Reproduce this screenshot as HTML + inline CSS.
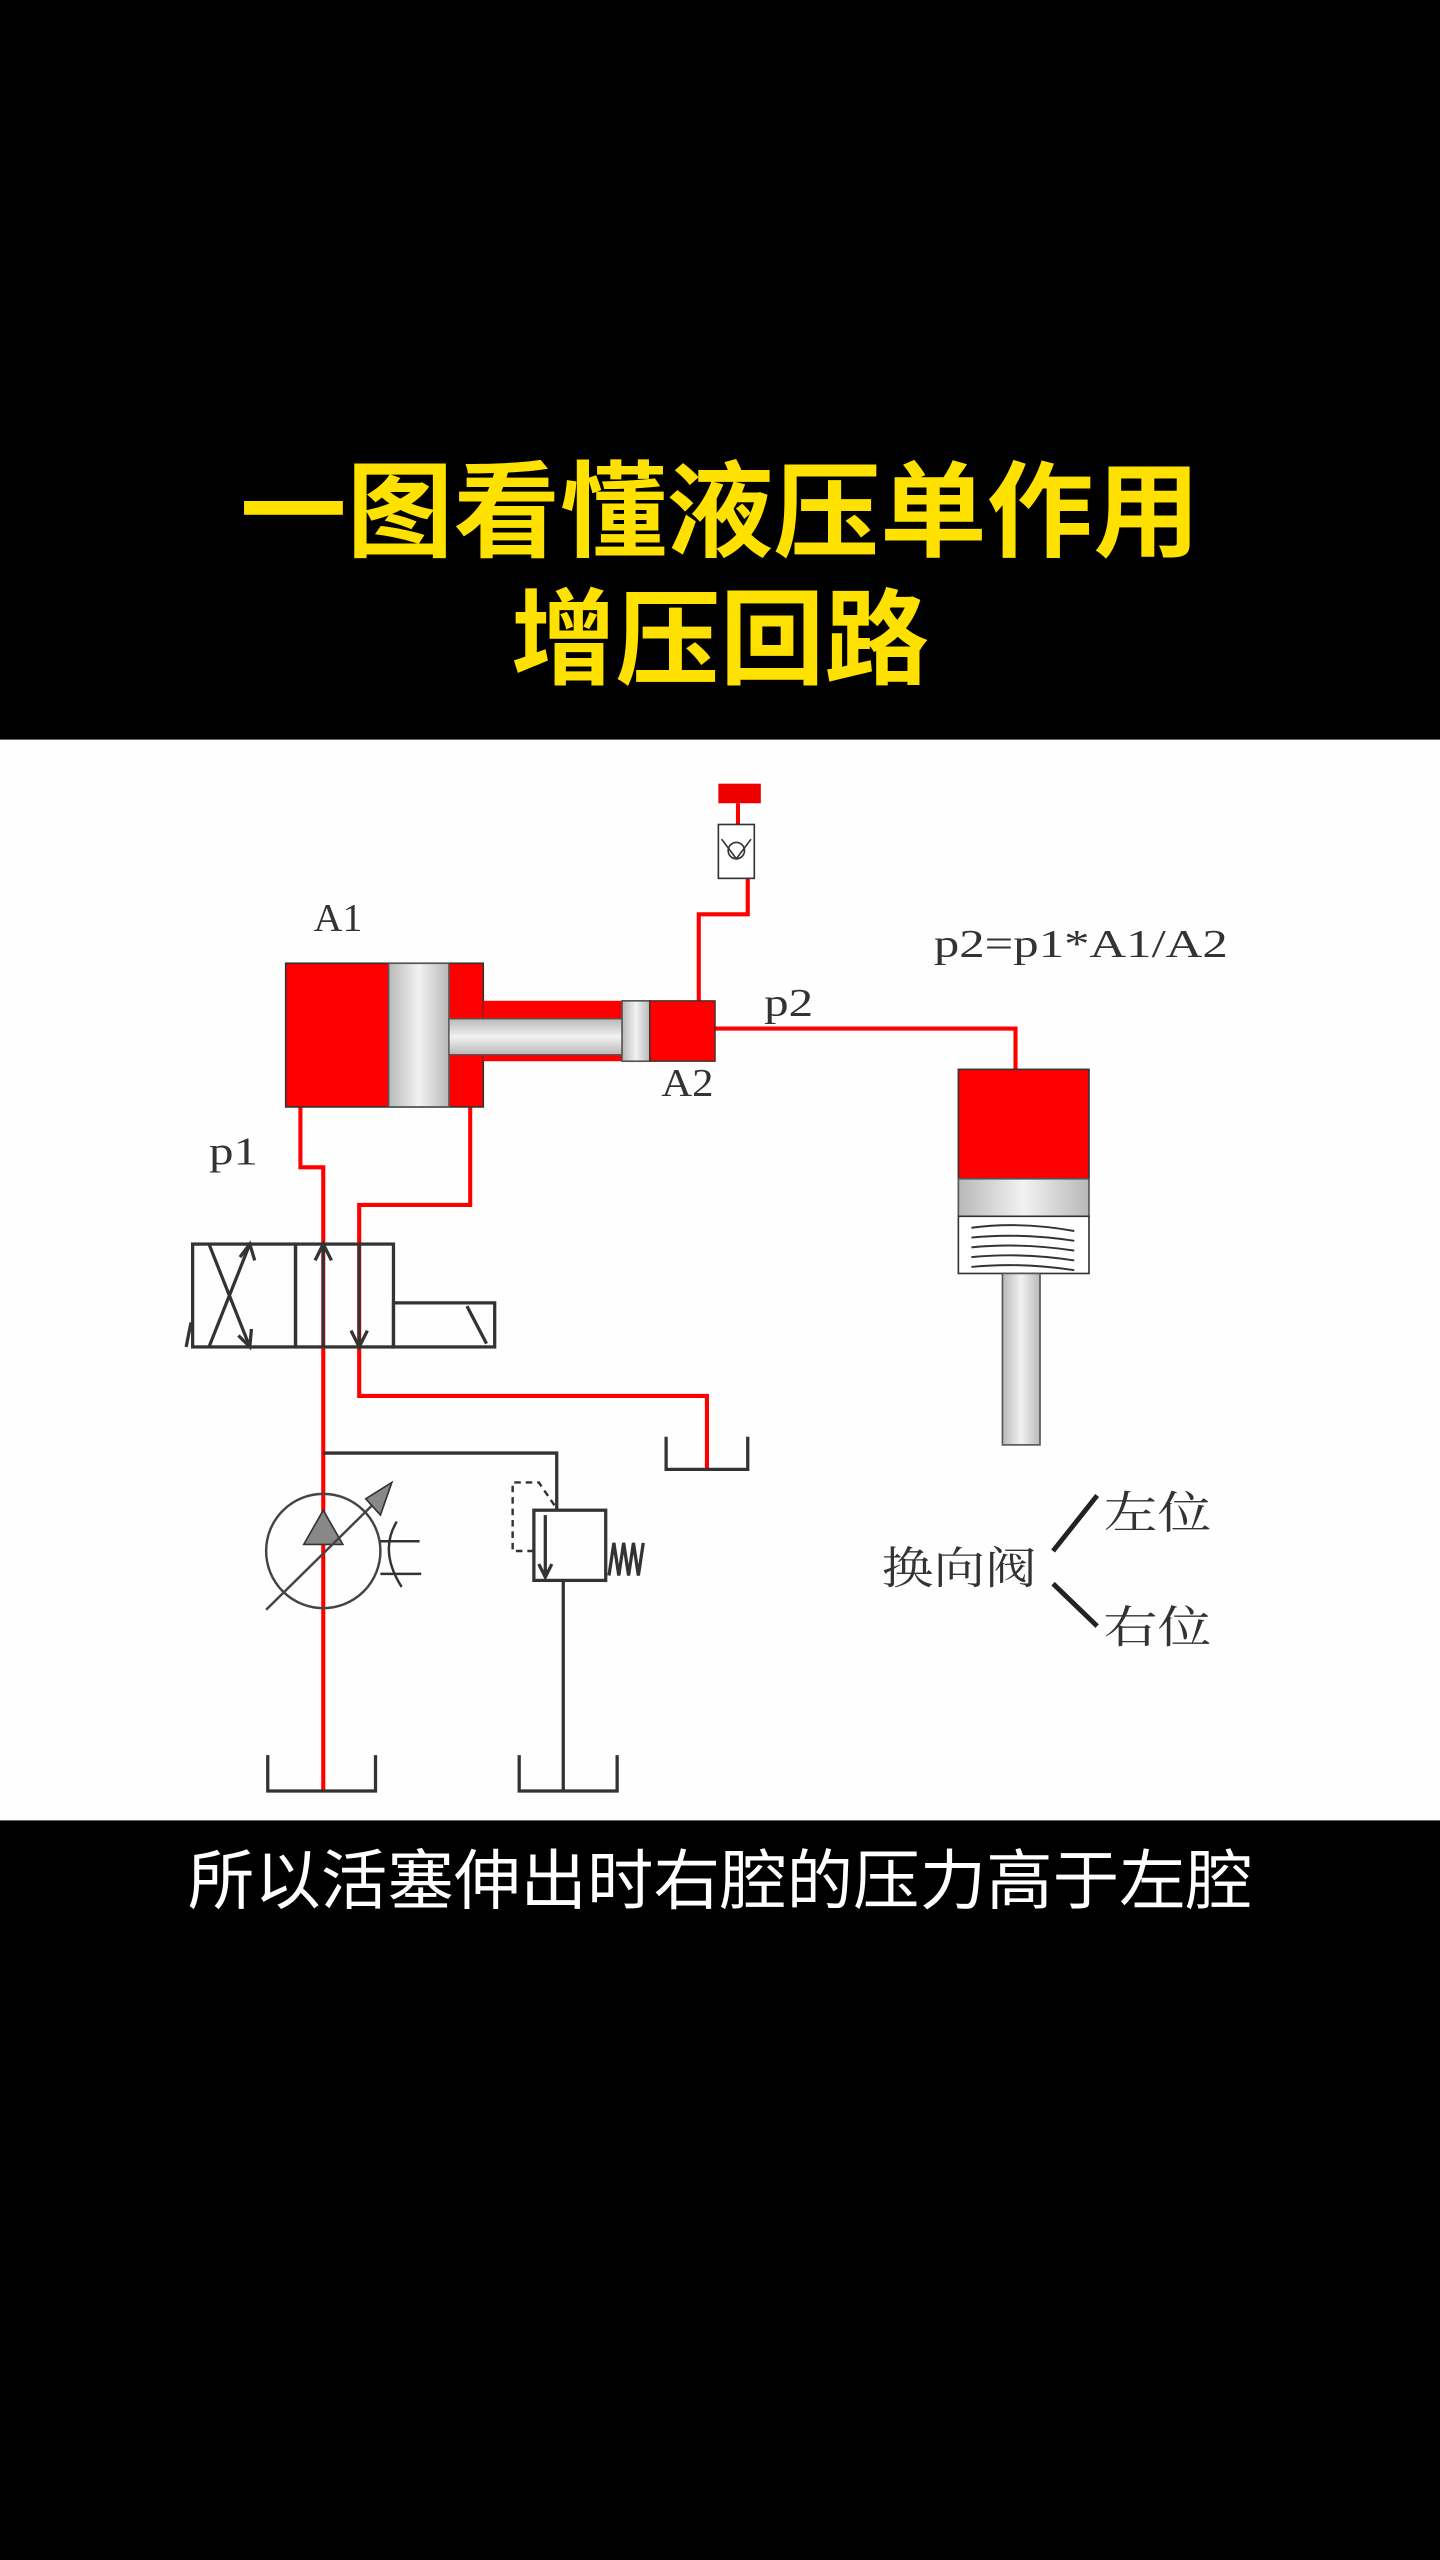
<!DOCTYPE html>
<html><head><meta charset="utf-8"><style>
html,body{margin:0;padding:0;background:#000;}
svg{display:block;}
</style></head><body>
<svg width="1440" height="2560" viewBox="0 0 882 1568" xmlns="http://www.w3.org/2000/svg">
<rect x="0" y="0" width="882" height="1568" fill="#000"/>
<text x="441" y="336" text-anchor="middle" fill="#FFE100" font-family="'Liberation Sans','Noto Sans CJK SC',sans-serif" font-weight="700" font-size="64" textLength="588" lengthAdjust="spacingAndGlyphs">一图看懂液压单作用</text>
<text x="441" y="414" text-anchor="middle" fill="#FFE100" font-family="'Liberation Sans','Noto Sans CJK SC',sans-serif" font-weight="700" font-size="64">增压回路</text>
<rect x="0" y="453" width="882" height="662" fill="#fefefe"/>
<text x="441" y="1166" text-anchor="middle" fill="#fff" font-family="'Liberation Sans','Noto Sans CJK SC',sans-serif" font-size="40" textLength="652" lengthAdjust="spacingAndGlyphs">所以活塞伸出时右腔的压力高于左腔</text>

<defs><linearGradient id="g" x1="0" x2="1"><stop offset="0" stop-color="#b8b8b8"/><stop offset="0.5" stop-color="#f2f2f2"/><stop offset="1" stop-color="#b8b8b8"/></linearGradient>
<linearGradient id="gv" x1="0" y1="0" x2="0" y2="1"><stop offset="0" stop-color="#b8b8b8"/><stop offset="0.5" stop-color="#f2f2f2"/><stop offset="1" stop-color="#b8b8b8"/></linearGradient></defs>

<g fill="none" stroke="#ff0000" stroke-width="2.5">
<path d="M184 678 V715 H198 V1097"/>
<path d="M288 678 V738 H220 V855 H433 V900"/>
<path d="M438 630 H622 V655"/>
<path d="M428 613 V560 H458 V538"/>
<path d="M452 492 V505"/>
</g>
<rect x="175" y="590" width="121" height="88" fill="#f00" stroke="#333" stroke-width="1"/>
<rect x="296" y="613" width="102" height="37" fill="#f00"/>
<rect x="238" y="590" width="37" height="88" fill="url(#g)" stroke="#555" stroke-width="1"/>
<rect x="275" y="624" width="108" height="22" fill="url(#gv)" stroke="#555" stroke-width="0.8"/>
<rect x="381" y="613" width="17" height="37" fill="url(#g)" stroke="#555" stroke-width="1"/>
<rect x="398" y="613" width="40" height="37" fill="#f00" stroke="#333" stroke-width="0.8"/>
<rect x="440" y="480" width="26" height="12" fill="#e00"/>
<rect x="440" y="505" width="22" height="33" fill="#fff" stroke="#333" stroke-width="1"/>
<circle cx="451" cy="521" r="5" fill="none" stroke="#333"/>
<path d="M442 514 L451 526 L460 514" fill="none" stroke="#333"/>
<rect x="587" y="655" width="80" height="67" fill="#f00" stroke="#333"/>
<rect x="587" y="722" width="80" height="23" fill="url(#g)" stroke="#555"/>
<rect x="587" y="745" width="80" height="35" fill="#fff" stroke="#333"/>
<g stroke="#333" stroke-width="1.2" fill="none">
<path d="M595 752 Q625 748 658 754 M595 758 Q625 755 658 760 M595 764 Q625 761 658 766 M595 770 Q625 767 658 772 M595 776 Q625 773 658 778"/>
</g>
<rect x="614" y="780" width="23" height="105" fill="url(#g)" stroke="#555"/>
<g font-family="'Liberation Serif','Noto Serif CJK SC',serif" fill="#333" font-size="24">
<text x="192" y="570" textLength="30" lengthAdjust="spacingAndGlyphs">A1</text>
<text x="405" y="671" textLength="32" lengthAdjust="spacingAndGlyphs">A2</text>
<text x="468" y="622" textLength="30" lengthAdjust="spacingAndGlyphs">p2</text>
<text x="128" y="713" textLength="30" lengthAdjust="spacingAndGlyphs">p1</text>
<text x="572" y="586" textLength="180" lengthAdjust="spacingAndGlyphs">p2=p1*A1/A2</text>
<text x="540" y="970" font-size="27" textLength="95" lengthAdjust="spacingAndGlyphs">换向阀</text>
<text x="676" y="936" font-size="27" textLength="66" lengthAdjust="spacingAndGlyphs">左位</text>
<text x="676" y="1006" font-size="27" textLength="66" lengthAdjust="spacingAndGlyphs">右位</text>
</g>
<path d="M645 950 L672 916 M645 970 L672 996" stroke="#222" stroke-width="3"/>
<g stroke="#333" stroke-width="2" fill="none">
<rect x="118" y="762" width="63" height="63"/>
<rect x="181" y="762" width="60" height="63"/>
<rect x="241" y="798" width="62" height="27"/>
<path d="M286 800 L298 823"/>
<path d="M128 762 L153 825 M128 825 L153 762"/>
<path d="M147 770 L153 762 L156 772 M146 818 L153 825 L154 814"/>
<path d="M198 825 V762 M193 772 L198 762 L203 772"/>
<path d="M220 762 V825 M215 815 L220 825 L225 815"/>
<path d="M114 825 L117 810"/>
<path d="M408 880 V900 H458 V880"/>
<path d="M164 1075 V1097 H230 V1075"/>
<path d="M318 1075 V1097 H378 V1075"/>
<path d="M198 890 H341 V925"/>
<path d="M345 968 V1097"/>
<rect x="327" y="925" width="44" height="43"/>
<path d="M334 928 V966 M330 958 L334 966 L338 958"/>
<path d="M373 965 L376 945 L379 965 L382 945 L385 965 L388 945 L391 965 L394 945"/>
</g>
<path d="M327 950 H314 V908 H330 L341 924" fill="none" stroke="#333" stroke-width="1.5" stroke-dasharray="4,3"/>
<circle cx="198" cy="950" r="35" fill="none" stroke="#444" stroke-width="1.5"/>
<path d="M186 946 L198 925 L210 946 Z" fill="#888" stroke="#333"/>
<path d="M163 986 L230 920" stroke="#444" stroke-width="1.5"/>
<path d="M224 918 L240 908 L233 928 Z" fill="#888" stroke="#333"/>
<path d="M233 944 H257 M233 964 H258 M243 932 Q232 950 246 972" fill="none" stroke="#333" stroke-width="1.5"/>
</svg>
</body></html>
